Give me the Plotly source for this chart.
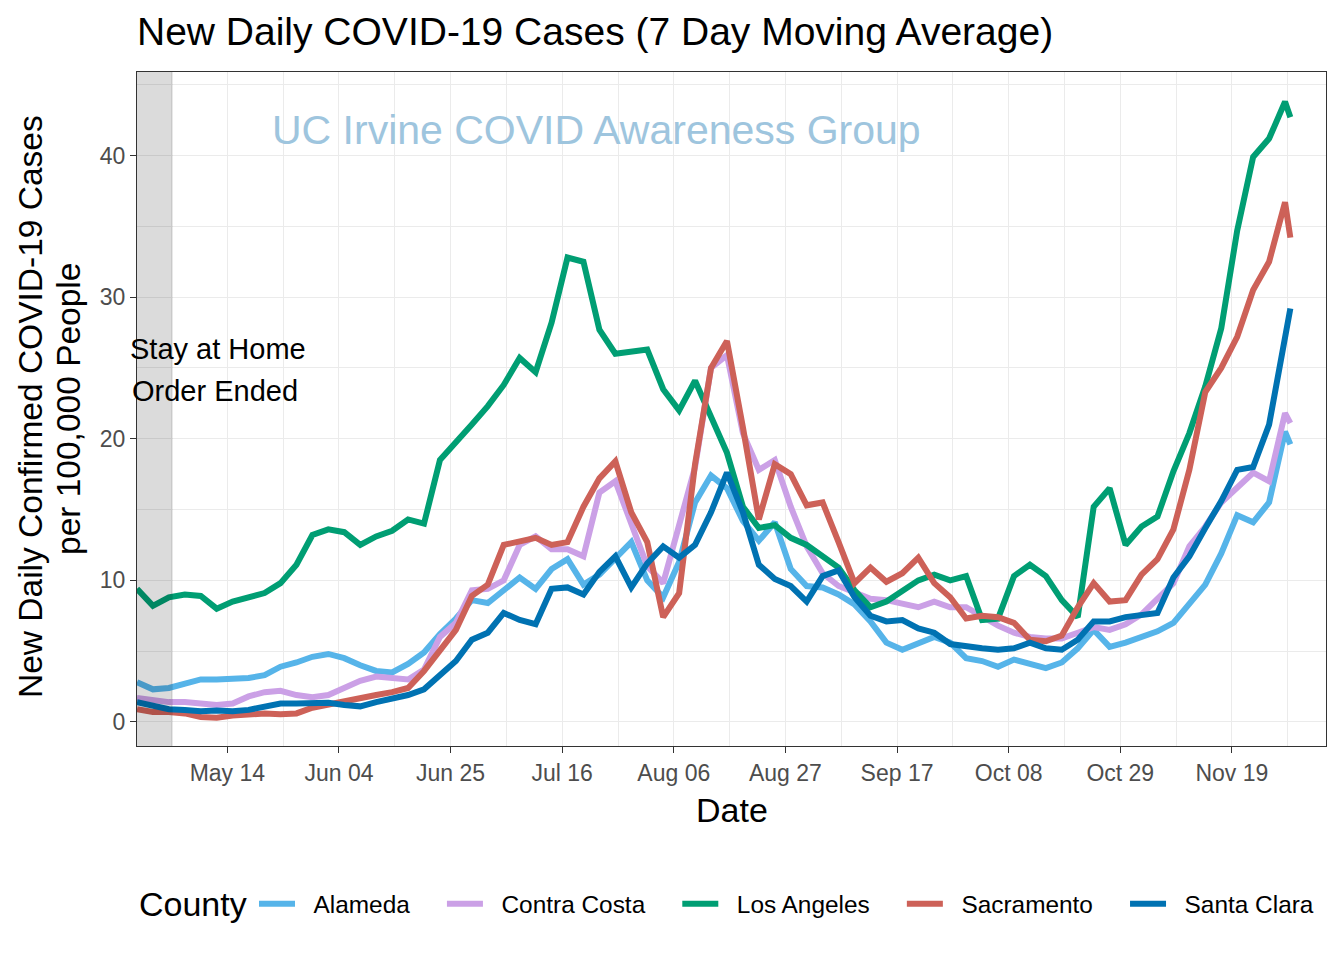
import pandas as pd
import plotly.graph_objects as go

# ---------------- data (7-day moving average, new daily cases per 100k) ----------------
dates = list(pd.date_range("2020-04-27", periods=73, freq="3D")) + [pd.Timestamp("2020-11-30")]

alameda = [2.8, 2.3, 2.4, 2.7, 3.0, 3.0, 3.0, 3.1, 3.3, 3.9, 4.2, 4.6, 4.8, 4.5, 4.0, 3.6, 3.5, 4.1,
           4.9, 6.2, 7.3, 8.6, 8.4, 9.3, 10.2, 9.4, 10.8, 11.5, 9.7, 10.4, 11.6, 12.7, 10.0, 8.8, 11.3,
           15.5, 17.4, 16.5, 14.2, 12.8, 14.1, 10.8, 9.6, 9.5, 9.0, 8.3, 7.1, 5.6, 5.1, 5.6, 6.0, 5.6,
           4.5, 4.3, 3.9, 4.4, 4.1, 3.8, 4.2, 5.2, 6.5, 5.3, 5.6, 6.0, 6.4, 7.0, 8.4, 9.7, 11.9, 14.6,
           14.1, 15.5, 20.5, 19.6]
contra_costa = [1.7, 1.5, 1.4, 1.4, 1.35, 1.2, 1.3, 1.8, 2.1, 2.2, 1.9, 1.75, 1.9, 2.4, 2.9, 3.2, 3.1,
                3.0, 3.7, 6.0, 7.0, 9.3, 9.4, 10.0, 12.5, 13.1, 12.2, 12.2, 11.7, 16.2, 17.0, 14.0, 11.0,
                9.8, 13.8, 18.0, 25.0, 25.9, 20.4, 17.8, 18.5, 15.2, 12.4, 10.5, 9.6, 9.1, 8.7, 8.6, 8.4,
                8.1, 8.5, 8.1, 8.1, 7.4, 6.8, 6.3, 6.0, 5.9, 5.9, 6.3, 6.7, 6.5, 6.9, 7.6, 8.7, 9.8, 12.4,
                13.8, 15.5, 16.6, 17.6, 17.0, 21.8, 21.1]
los_angeles = [9.4, 8.2, 8.8, 9.0, 8.9, 8.0, 8.5, 8.8, 9.1, 9.8, 11.1, 13.2, 13.6, 13.4, 12.5, 13.1, 13.5,
               14.3, 14.0, 18.5, 19.7, 21.0, 22.3, 23.8, 25.7, 24.7, 28.2, 32.8, 32.5, 27.7, 26.0, 26.1,
               26.3, 23.5, 22.0, 24.1, 21.5, 19.0, 15.2, 13.7, 13.9, 13.0, 12.5, 11.7, 10.9, 9.3, 8.1,
               8.5, 9.2, 10.0, 10.4, 10.0, 10.3, 7.2, 7.3, 10.3, 11.1, 10.3, 8.6, 7.4, 15.2, 16.5, 12.5,
               13.8, 14.5, 17.7, 20.4, 23.7, 27.8, 34.7, 39.9, 41.2, 43.8, 42.7]
sacramento = [0.9, 0.7, 0.7, 0.6, 0.35, 0.3, 0.45, 0.55, 0.6, 0.55, 0.6, 1.0, 1.25, 1.4, 1.7, 1.9, 2.1,
              2.4, 3.6, 5.1, 6.5, 8.9, 9.7, 12.5, 12.8, 13.0, 12.5, 12.7, 15.2, 17.2, 18.4, 14.8, 12.7,
              7.4, 9.1, 18.2, 25.0, 26.9, 20.8, 14.3, 18.2, 17.5, 15.3, 15.5, 12.7, 9.8, 10.9, 9.9, 10.5,
              11.6, 9.8, 8.8, 7.3, 7.5, 7.4, 7.0, 5.8, 5.7, 6.1, 8.1, 9.8, 8.5, 8.6, 10.4, 11.5, 13.6,
              17.8, 23.3, 25.0, 27.2, 30.5, 32.5, 36.7, 34.2]
santa_clara = [1.4, 1.1, 0.9, 0.85, 0.75, 0.8, 0.75, 0.85, 1.1, 1.3, 1.3, 1.35, 1.35, 1.2, 1.1, 1.4, 1.6,
               1.9, 2.3, 3.3, 4.3, 5.8, 6.3, 7.7, 7.2, 6.9, 9.4, 9.5, 9.0, 10.6, 11.7, 9.5, 11.2, 12.4,
               11.6, 12.5, 14.8, 17.6, 14.8, 11.1, 10.1, 9.6, 8.5, 10.3, 10.7, 8.8, 7.5, 7.1, 7.2, 6.6,
               6.3, 5.5, 5.3, 5.2, 5.1, 5.2, 5.6, 5.2, 5.1, 5.8, 7.1, 7.1, 7.4, 7.6, 7.7, 10.2, 11.7,
               13.7, 15.6, 17.8, 18.0, 21.0, 27.3, 29.2]

counties = ["Alameda", "Contra Costa", "Los Angeles", "Sacramento", "Santa Clara"]
series = [alameda, contra_costa, los_angeles, sacramento, santa_clara]
colors = ["#56B4E9", "#CBA0E6", "#009E73", "#CD6158", "#0072B2"]

y_ticks = [0, 10, 20, 30, 40]
stay_home_end = "2020-05-03 17:00"

FONT = "Liberation Sans"
LEAD = "\u00a0" * 2   # gap between legend key and label (as in the original)
TRAIL = "\u00a0" * 4  # gap after each legend label

fig = go.Figure()
for i, (name, vals, col) in enumerate(zip(counties, series, colors)):
    label = LEAD + name + (TRAIL if i < len(counties) - 1 else "")
    fig.add_trace(go.Scatter(x=dates, y=vals, mode="lines", name=label,
                             line=dict(color=col, width=6)))

# shaded "stay at home" period (drawn over lines like the original)
fig.add_shape(type="rect", xref="x", yref="paper", x0="2020-04-27", x1=stay_home_end,
              y0=0, y1=1, fillcolor="rgba(0,0,0,0.14)", line=dict(width=0), layer="above")

fig.update_layout(
    width=1344, height=960,
    margin=dict(l=137, r=18, t=72, b=214),
    paper_bgcolor="white", plot_bgcolor="white",
    font=dict(family=FONT, color="black"),
    title=dict(text="New Daily COVID-19 Cases (7 Day Moving Average)",
               x=137 / 1344, xanchor="left", xref="container",
               y=1 - 31 / 960, yanchor="middle", yref="container",
               font=dict(size=39, family=FONT, color="black")),
    showlegend=True,
    legend=dict(orientation="h", xref="container", x=254 / 1344, xanchor="left",
                yref="container", y=1 - 904 / 960, yanchor="middle",
                font=dict(size=24.4, family=FONT, color="black"),
                itemwidth=36,
                bgcolor="rgba(0,0,0,0)"),
)

fig.update_xaxes(
    type="date", range=["2020-04-27", "2020-12-06 17:00"],
    tick0="2020-05-14", dtick=21 * 86400000, tickformat="%b %d",
    showline=True, mirror=True, linecolor="#333333", linewidth=1.2,
    ticks="outside", ticklen=6, tickwidth=1.2, tickcolor="#333333",
    tickfont=dict(size=23, color="#4D4D4D", family=FONT),
    showgrid=True, gridcolor="#EBEBEB", gridwidth=1.2, zeroline=False,
    minor=dict(tick0="2020-05-14", dtick=10.5 * 86400000, showgrid=True,
               gridcolor="#EBEBEB", gridwidth=0.6, ticks=""),
)
fig.update_yaxes(
    range=[-1.7, 45.9], tickvals=y_ticks,
    showline=True, mirror=True, linecolor="#333333", linewidth=1.2,
    ticks="outside", ticklen=6, tickwidth=1.2, tickcolor="#333333",
    tickfont=dict(size=23, color="#4D4D4D", family=FONT),
    showgrid=True, gridcolor="#EBEBEB", gridwidth=1.2, zeroline=False,
    minor=dict(dtick=5, tick0=0, showgrid=True, gridcolor="#EBEBEB", gridwidth=0.6, ticks=""),
)

# legend title
fig.add_annotation(text="County", xref="paper", yref="paper", x=0,
                   y=(746 - 904) / 674, xanchor="left", yanchor="middle", showarrow=False,
                   font=dict(size=34, family=FONT, color="black"))

# axis titles
fig.add_annotation(text="Date", xref="paper", yref="paper", x=(732 - 137) / 1189,
                   y=(746 - 810) / 674, xanchor="center", yanchor="middle", showarrow=False,
                   font=dict(size=34, family=FONT, color="black"))
fig.add_annotation(text="New Daily Confirmed COVID-19 Cases", xref="paper", yref="paper",
                   x=(30 - 137) / 1189, y=(746 - 407) / 674, textangle=-90,
                   xanchor="center", yanchor="middle", showarrow=False,
                   font=dict(size=33.5, family=FONT, color="black"))
fig.add_annotation(text="per 100,000 People", xref="paper", yref="paper",
                   x=(68 - 137) / 1189, y=(746 - 409) / 674, textangle=-90,
                   xanchor="center", yanchor="middle", showarrow=False,
                   font=dict(size=33.5, family=FONT, color="black"))

# watermark
fig.add_annotation(text="UC Irvine COVID Awareness Group", xref="paper", yref="paper",
                   x=(596 - 137) / 1189, y=(746 - 130) / 674, xanchor="center", yanchor="middle",
                   showarrow=False, font=dict(size=41, family=FONT, color="#9EC5DE"))

# stay-at-home annotation
fig.add_annotation(text="Stay at Home", xref="paper", yref="paper",
                   x=(218 - 137) / 1189, y=(746 - 349) / 674, xanchor="center", yanchor="middle",
                   showarrow=False, font=dict(size=29, family=FONT, color="black"))
fig.add_annotation(text="Order Ended", xref="paper", yref="paper",
                   x=(215 - 137) / 1189, y=(746 - 391) / 674, xanchor="center", yanchor="middle",
                   showarrow=False, font=dict(size=29, family=FONT, color="black"))

fig.write_html("out.html")
